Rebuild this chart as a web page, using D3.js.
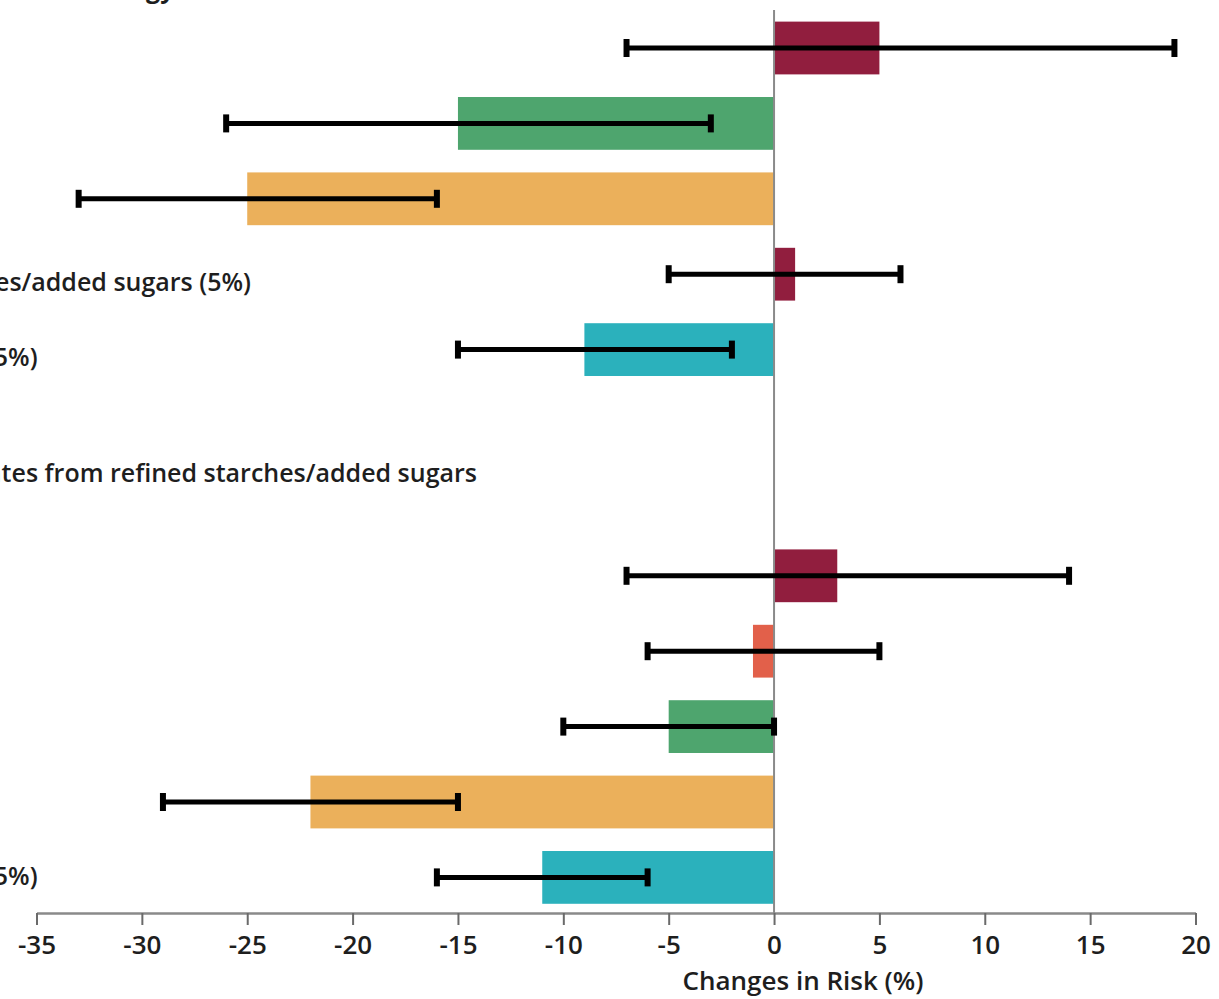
<!DOCTYPE html>
<html>
<head>
<meta charset="utf-8">
<script src="https://cdn.jsdelivr.net/npm/d3@7/dist/d3.min.js"></script>
<style>
  html, body { margin: 0; padding: 0; background: #ffffff; overflow: hidden; }
  svg { display: block; }
  text { font-family: "Open Sans", "Noto Sans", sans-serif; fill: #1e1e1e; }
</style>
</head>
<body>
<svg id="chart" width="1219" height="999"></svg>
<script>
// ---- data ----
const rowKeys = ["r1","r2","r3","r4","r5","gapA","gapB","r6","r7","r8","r9","r10"];
const categories = ["r1","r2","r3","r4","r5","r6","r7","r8","r9","r10"];
const labels = [
  "Trans fat (2%)",
  "MUFA (5%)",
  "PUFA (5%)",
  "Carbohydrates from refined starches/added sugars (5%)",
  "Carbohydrates from whole grains (5%)",
  "Trans fat (2%)",
  "Saturated fat (5%)",
  "MUFA (5%)",
  "PUFA (5%)",
  "Carbohydrates from whole grains (5%)"
];
const values = [5, -15, -25, 1, -9, 3, -1, -5, -22, -11];
const lower  = [-7, -26, -33, -5, -15, -7, -6, -10, -29, -16];
const upper  = [19, -3, -16, 6, -2, 14, 5, 0, -15, -6];
const colors = ["#911e3e","#4ea56e","#ebb05b","#911e3e","#2bb1bc","#911e3e","#e2604a","#4ea56e","#ebb05b","#2bb1bc"];
const headingTop = "Replacing 5% energy from saturated fat with energy from";
const headingBottom = "Replacing 5% energy from carbohydrates from refined starches/added sugars";
const tickValues = [-35, -30, -25, -20, -15, -10, -5, 0, 5, 10, 15, 20];
const axisTitle = "Changes in Risk (%)";

// ---- layout ----
const svg = d3.select("#chart");
const x = d3.scaleLinear().domain([-35, 20]).range([36.5, 1195.5]);
const y = d3.scaleBand().domain(rowKeys).range([10.3, 915.1]).paddingInner(0.3).paddingOuter(0.15);
const axisY = 913;

// bars
svg.append("g").selectAll("rect").data(categories).join("rect")
  .attr("x", (d, i) => Math.min(x(0), x(values[i])))
  .attr("width", (d, i) => Math.abs(x(values[i]) - x(0)))
  .attr("y", d => y(d))
  .attr("height", y.bandwidth())
  .attr("fill", (d, i) => colors[i]);

// zero line
svg.append("line")
  .attr("x1", x(0)).attr("x2", x(0))
  .attr("y1", 10).attr("y2", axisY)
  .attr("stroke", "#8a8a8a").attr("stroke-width", 2);

// error bars
const eb = svg.append("g");
eb.selectAll("line").data(categories).join("line")
  .attr("x1", (d, i) => x(lower[i]))
  .attr("x2", (d, i) => x(upper[i]))
  .attr("y1", d => y(d) + y.bandwidth() / 2)
  .attr("y2", d => y(d) + y.bandwidth() / 2)
  .attr("stroke", "#000").attr("stroke-width", 5);
const capW = 6, capH = 18;
eb.selectAll("rect.lo").data(categories).join("rect").attr("class", "lo")
  .attr("x", (d, i) => x(lower[i]) - capW / 2)
  .attr("y", d => y(d) + y.bandwidth() / 2 - capH / 2)
  .attr("width", capW).attr("height", capH).attr("fill", "#000");
eb.selectAll("rect.hi").data(categories).join("rect").attr("class", "hi")
  .attr("x", (d, i) => x(upper[i]) - capW / 2)
  .attr("y", d => y(d) + y.bandwidth() / 2 - capH / 2)
  .attr("width", capW).attr("height", capH).attr("fill", "#000");

// axis
const axis = d3.axisBottom(x).tickValues(tickValues).tickFormat(d => String(d))
  .tickSize(12).tickSizeOuter(0).tickPadding(11);
const ag = svg.append("g").attr("transform", `translate(0,${axisY})`).call(axis);
ag.select(".domain").attr("stroke", "#8a8a8a").attr("stroke-width", 2.5);
ag.selectAll(".tick line").attr("stroke", "#6a6a6a").attr("stroke-width", 2);
ag.selectAll(".tick text")
  .style("font-family", '"Open Sans", sans-serif')
  .style("font-size", "26px").style("font-weight", 600).attr("fill", "#1e1e1e");

svg.append("text").attr("x", 803).attr("y", 990)
  .attr("text-anchor", "middle")
  .style("font-size", "26px").style("font-weight", 600)
  .text(axisTitle);

// row labels: common left start, placed so the long refined-starch label ends at x=251;
// only labels that reach into the visible area are drawn (as in the cropped reference)
const lab = svg.append("g").style("font-size", "25px").style("font-weight", 600);
const widths = labels.map(t => {
  const p = lab.append("text").text(t);
  const w = p.node().getComputedTextLength();
  p.remove();
  return w;
});
const labelStart = 251 - widths[3];
const labelDy = [9, 9, 9, 17, 16, 9, 9, 9, 9, 8];
const visible = categories.map((d, i) => i).filter(i => labelStart + widths[i] > 0);
lab.selectAll("text").data(visible).join("text")
  .attr("x", labelStart)
  .attr("y", i => y(categories[i]) + y.bandwidth() / 2 + labelDy[i])
  .text(i => labels[i]);

// headings
svg.append("text").attr("x", 242).attr("y", -2).attr("text-anchor", "end")
  .style("font-size", "25px").style("font-weight", 700)
  .text(headingTop);
svg.append("text").attr("x", 477).attr("y", 482).attr("text-anchor", "end")
  .style("font-size", "25px").style("font-weight", 600)
  .text(headingBottom);
</script>
</body>
</html>
